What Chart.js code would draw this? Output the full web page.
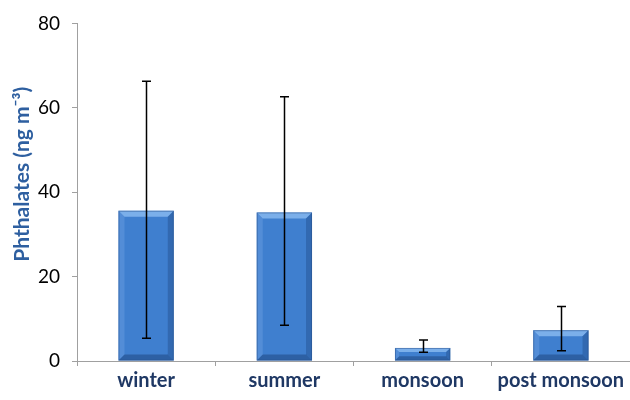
<!DOCTYPE html>
<html>
<head>
<meta charset="utf-8">
<script src="https://cdn.jsdelivr.net/npm/chart.js@4"></script>
<style>
  html, body { margin: 0; padding: 0; background: #fff; }
  #wrap { width: 630px; height: 400px; }
</style>
</head>
<body>
<div id="wrap"><canvas id="chart" width="630" height="400"></canvas></div>
<script>
// --- DATA (phthalates by season) ---
const seasons = ['winter', 'summer', 'monsoon', 'post monsoon'];
const means = [35.6, 35.2, 3.1, 7.3];
const errHigh = [66.3, 62.6, 5.0, 12.9];
const errLow = [5.4, 8.5, 2.1, 2.4];
const yTicks = [0, 20, 40, 60, 80];
const yTitle = 'Phthalates (ng m\u207B\u00B3)';

const FONT = 'Lato, "Open Sans", sans-serif';

// bar face: horizontal gradient, darker at the edges
function barFill(c) {
  const el = c.chart.getDatasetMeta(0).data[c.dataIndex];
  if (!el || el.width == null) return '#3f7fcf';
  const x0 = el.x - el.width / 2, x1 = el.x + el.width / 2;
  const g = c.chart.ctx.createLinearGradient(x0, 0, x1, 0);
  g.addColorStop(0, '#3670bd');
  g.addColorStop(0.1, '#4485d4');
  g.addColorStop(0.5, '#3f80d0');
  g.addColorStop(0.9, '#3a78c6');
  g.addColorStop(1, '#2c5ea2');
  return g;
}

// bevel edges like the Office bar style
const bevel = {
  id: 'bevel',
  afterDatasetsDraw(chart) {
    const ctx = chart.ctx;
    chart.getDatasetMeta(0).data.forEach(b => {
      const l = b.x - b.width / 2, r = b.x + b.width / 2, t = b.y, btm = b.base;
      const d = Math.min(6, (btm - t) / 3);
      ctx.save();
      ctx.fillStyle = 'rgba(150,195,245,0.7)';
      ctx.beginPath();
      ctx.moveTo(l, t); ctx.lineTo(r, t); ctx.lineTo(r - d, t + d); ctx.lineTo(l + d, t + d);
      ctx.closePath(); ctx.fill();
      ctx.fillStyle = 'rgba(120,170,230,0.35)';
      ctx.beginPath();
      ctx.moveTo(l, t); ctx.lineTo(l + d, t + d); ctx.lineTo(l + d, btm - d); ctx.lineTo(l, btm);
      ctx.closePath(); ctx.fill();
      ctx.fillStyle = 'rgba(20,55,110,0.3)';
      ctx.beginPath();
      ctx.moveTo(r, t); ctx.lineTo(r - d, t + d); ctx.lineTo(r - d, btm - d); ctx.lineTo(r, btm);
      ctx.closePath(); ctx.fill();
      ctx.fillStyle = 'rgba(20,50,100,0.4)';
      ctx.beginPath();
      ctx.moveTo(l, btm); ctx.lineTo(l + d, btm - d); ctx.lineTo(r - d, btm - d); ctx.lineTo(r, btm);
      ctx.closePath(); ctx.fill();
      ctx.strokeStyle = 'rgba(40,80,140,0.5)';
      ctx.lineWidth = 1;
      ctx.strokeRect(l + 0.5, t + 0.5, b.width - 1, btm - t - 1);
      ctx.restore();
    });
  }
};

// error bars drawn through the y scale
const errorBars = {
  id: 'errorBars',
  afterDatasetsDraw(chart) {
    const ctx = chart.ctx;
    const y = chart.scales.y;
    chart.getDatasetMeta(0).data.forEach((b, i) => {
      const yh = y.getPixelForValue(errHigh[i]);
      const yl = y.getPixelForValue(errLow[i]);
      const x = Math.round(b.x) + 0.5;
      ctx.save();
      ctx.strokeStyle = '#000';
      ctx.lineWidth = 1.5;
      ctx.beginPath();
      ctx.moveTo(x, yh); ctx.lineTo(x, yl);
      ctx.moveTo(x - 4.5, yh); ctx.lineTo(x + 4.5, yh);
      ctx.moveTo(x - 4.5, yl); ctx.lineTo(x + 4.5, yl);
      ctx.stroke();
      ctx.restore();
    });
  }
};

// y title sits a little above the middle of the axis, as in the original
const sideTitle = {
  id: 'sideTitle',
  afterDraw(chart) {
    const ctx = chart.ctx, a = chart.chartArea;
    ctx.save();
    ctx.translate(22, (a.top + a.bottom) / 2 - 18);
    ctx.rotate(-Math.PI / 2);
    ctx.fillStyle = '#2e5fa0';
    ctx.font = 'bold 21px ' + FONT;
    ctx.textAlign = 'center';
    ctx.textBaseline = 'middle';
    ctx.fillText(yTitle, 0, 0);
    ctx.restore();
  }
};

new Chart(document.getElementById('chart'), {
  type: 'bar',
  data: {
    labels: seasons,
    datasets: [{
      data: means,
      backgroundColor: barFill,
      borderWidth: 0,
      categoryPercentage: 1,
      barPercentage: 0.4
    }]
  },
  plugins: [bevel, errorBars, sideTitle],
  options: {
    responsive: false,
    animation: false,
    layout: { padding: { top: 20, right: 0, left: 0, bottom: 0 } },
    plugins: { legend: { display: false }, tooltip: { enabled: false } },
    scales: {
      x: {
        grid: { display: true, drawOnChartArea: false, drawTicks: true, tickLength: 5, color: '#a0a0a0' },
        border: { color: '#a0a0a0', width: 1 },
        ticks: { color: '#1f3864', font: { family: FONT, size: 20, weight: 'bold' }, padding: 3, maxRotation: 0 },
        afterFit: s => { s.height = 39; }
      },
      y: {
        min: 0, max: 80,
        afterBuildTicks: s => { s.ticks = yTicks.map(v => ({ value: v })); },
        grid: { display: true, drawOnChartArea: false, drawTicks: true, tickLength: 5, color: '#a0a0a0' },
        border: { color: '#a0a0a0', width: 1 },
        ticks: { color: '#000', font: { family: FONT, size: 19 }, padding: 12 },
        afterFit: s => { s.width = 77; }
      }
    }
  }
});
</script>
</body>
</html>
